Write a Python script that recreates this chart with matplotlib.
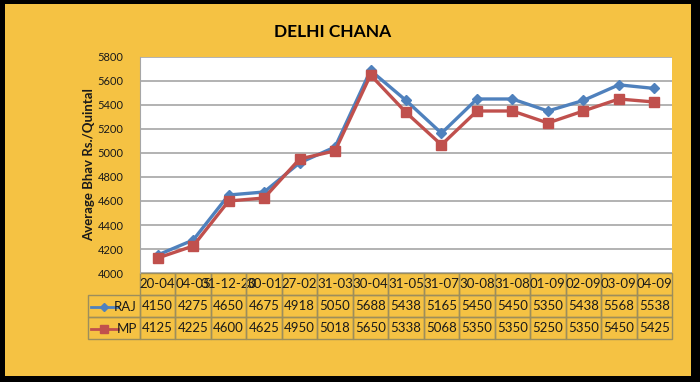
import matplotlib.pyplot as plt
from matplotlib.patches import Rectangle

plt.rcParams['font.family'] = ['Lato', 'DejaVu Sans']

# data
dates = ["20-04", "04-05", "31-12-20", "30-01", "27-02", "31-03", "30-04", "31-05",
         "31-07", "30-08", "31-08", "01-09", "02-09", "03-09", "04-09"]
raj = [4150, 4275, 4650, 4675, 4918, 5050, 5688, 5438, 5165, 5450, 5450, 5350, 5438, 5568, 5538]
mp = [4125, 4225, 4600, 4625, 4950, 5018, 5650, 5338, 5068, 5350, 5350, 5250, 5350, 5450, 5425]

gold = '#F5C243'
blue = '#4F81BD'
red = '#C0504D'
W, H = 700, 382

fig = plt.figure(figsize=(7, 3.82), dpi=100, facecolor='black')
# gold panel inside black frame
fig.patches.append(Rectangle((5 / W, 6 / H), (691 - 5) / W, (378 - 6) / H,
                             transform=fig.transFigure, facecolor=gold,
                             edgecolor='none', zorder=-10))

ax = fig.add_axes([140 / W, 1 - 273 / H, 532 / W, 216 / H])
ax.set_facecolor('white')
x = list(range(len(dates)))
ax.plot(x, raj, color=blue, lw=2.4, marker='D', ms=5.5, zorder=3)
ax.plot(x, mp, color=red, lw=2.4, marker='s', ms=7, zorder=3)

ax.set_xlim(-0.5, len(dates) - 0.5)
ax.set_ylim(4000, 5800)
ax.set_yticks(range(4000, 5801, 200))
ax.set_xticks([])
ax.tick_params(axis='y', length=0, pad=12, labelsize=8, labelcolor='#1a1a1a')
ax.grid(axis='y', color='#A6A6A6', lw=1.2)
ax.set_axisbelow(True)
for s in ax.spines.values():
    s.set_visible(False)
ax.spines['left'].set_visible(True)
ax.spines['left'].set_color('#A6A6A6')

ax.set_ylabel("Average Bhav Rs./Quintal", fontsize=9.5, fontweight='bold',
              color='#1a1a1a')
ax.yaxis.set_label_coords(-45 / 532, 0.5)

fig.text(333 / W, 1 - 32 / H, "DELHI CHANA", ha='center', va='center',
         fontsize=12.5, fontweight='bold', color='black')

# data table below the plot
cells = [[""] + dates,
         [""] + [str(v) for v in raj],
         [""] + [str(v) for v in mp]]
lab_w = 52 / 532
col_w = [lab_w] + [1 / len(dates)] * len(dates)
tb = ax.table(cellText=cells, colWidths=col_w, cellLoc='center',
              bbox=[-lab_w, -66 / 216, 1 + lab_w, 66 / 216])
tb.auto_set_font_size(False)
tb.set_fontsize(9.5)
for (r, c), cell in tb.get_celld().items():
    cell.set_facecolor('none')
    cell.set_edgecolor('#9C8E5C')
    cell.set_linewidth(1)
    cell.get_text().set_color('#1a1a1a')
tb[0, 0].visible_edges = ''

# legend keys in the table row labels
for row_y, name, col, mk, ms in [(-0.157, "RAJ", blue, 'D', 4.5), (-0.259, "MP", red, 's', 6)]:
    ax.plot([-0.092, -0.042], [row_y, row_y], transform=ax.transAxes, color=col,
            lw=2, clip_on=False)
    ax.plot([-0.067], [row_y], transform=ax.transAxes, color=col, marker=mk, ms=ms,
            clip_on=False)
    ax.text(-0.006, row_y, name, transform=ax.transAxes, ha='right', va='center',
            fontsize=9.5, color='#1a1a1a')

fig.savefig("out.png", dpi=100, facecolor=fig.get_facecolor())
